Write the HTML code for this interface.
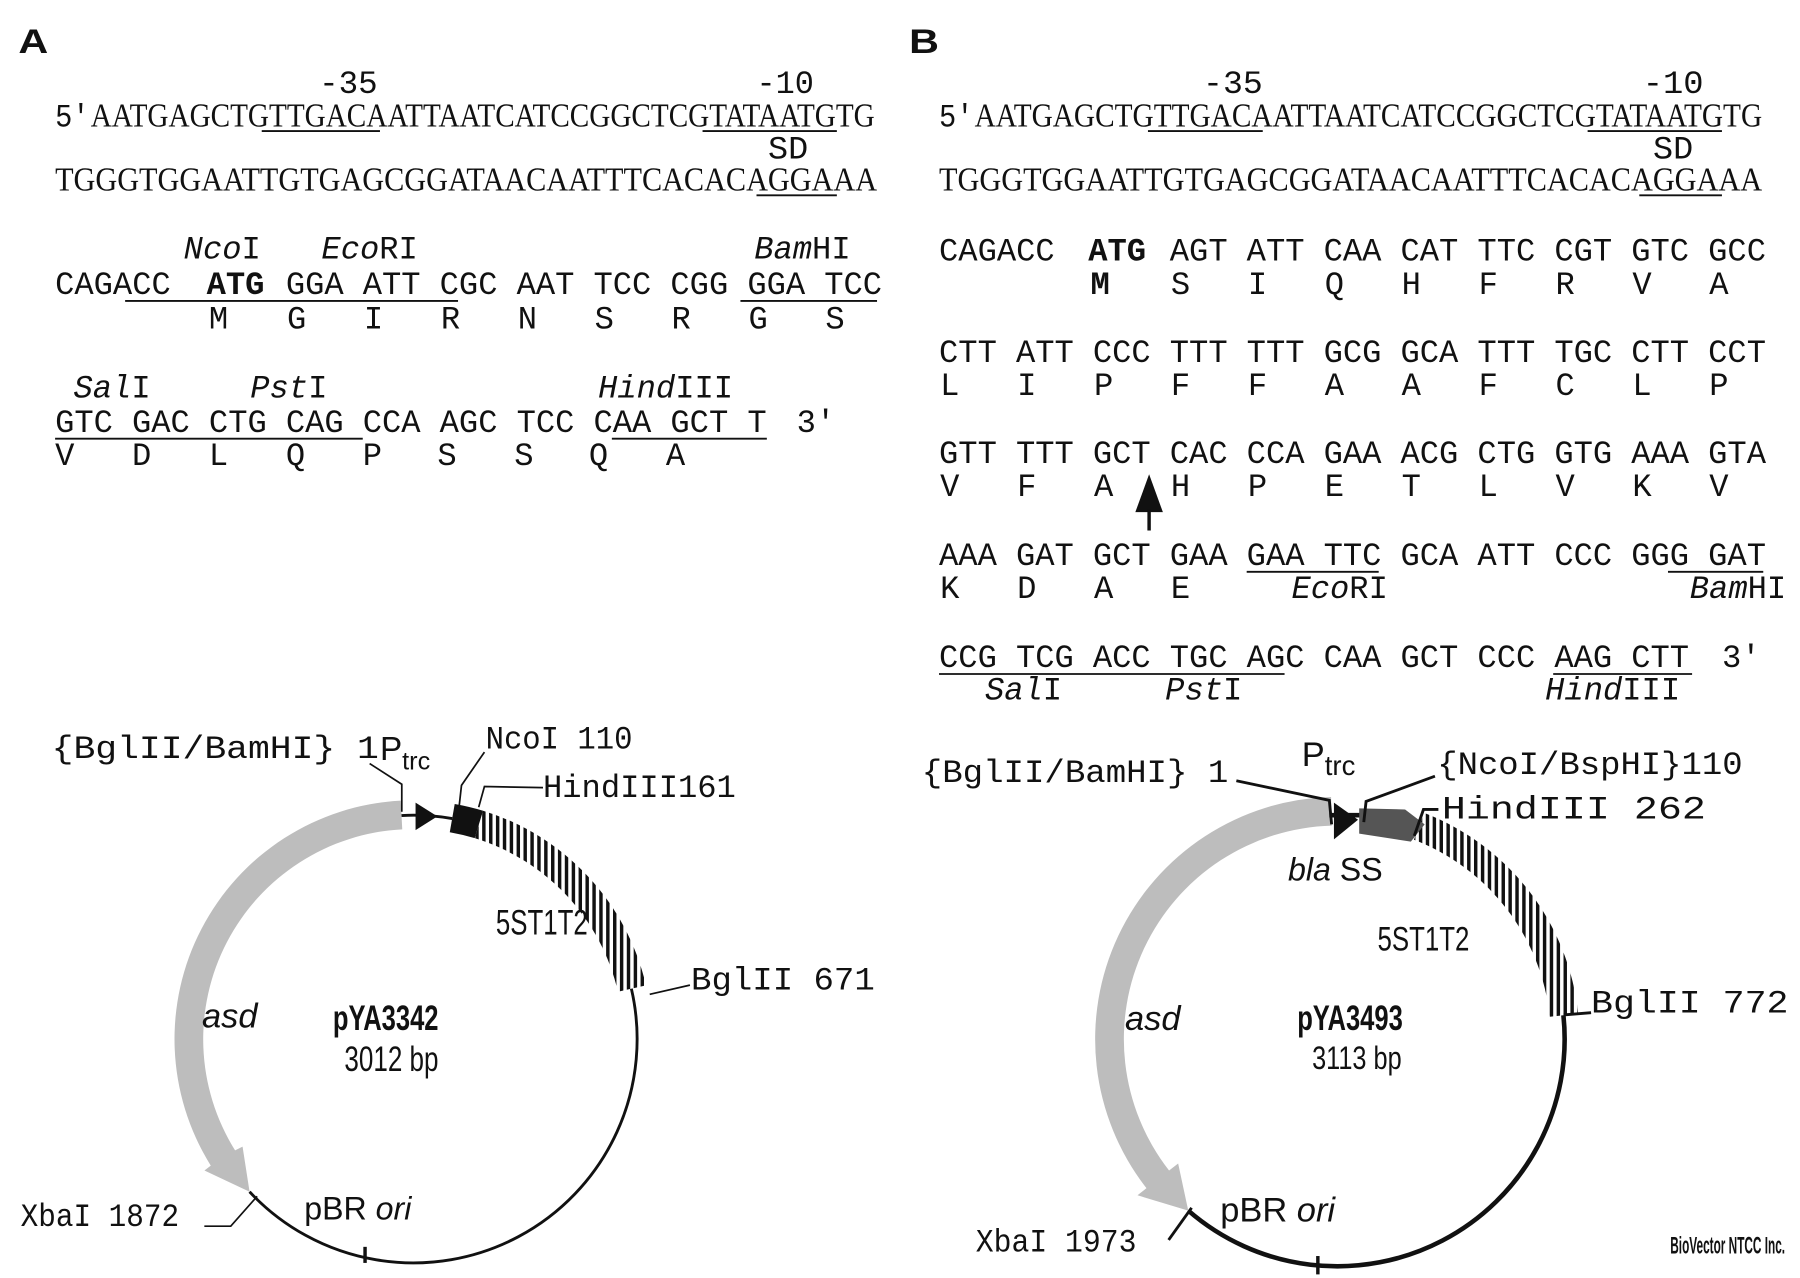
<!DOCTYPE html>
<html><head><meta charset="utf-8"><style>
html,body{margin:0;padding:0;background:#fff;}
svg{display:block;}
.m{font-family:"Liberation Mono",monospace;font-size:28px;fill:#111;}
.s{font-family:"Liberation Serif",serif;font-size:29px;fill:#111;}
.a{font-family:"Liberation Sans",sans-serif;fill:#111;}
.u{stroke:#111;stroke-width:1.6;}
.i{font-style:italic;}
.b{font-weight:bold;}
</style></head><body>
<svg width="1800" height="1278" viewBox="0 0 1568 1113" xmlns="http://www.w3.org/2000/svg">
<defs>
<pattern id="hat" patternUnits="userSpaceOnUse" width="6" height="6"><rect x="0" y="0" width="3" height="6" fill="#111"/></pattern>
</defs>
<rect width="1568" height="1113" fill="#fff"/>

<!-- ===== Panel A ===== -->
<text x="16" y="46" class="a b" font-size="30" textLength="26" lengthAdjust="spacingAndGlyphs">A</text>
<text x="278" y="81" class="m" textLength="51" lengthAdjust="spacingAndGlyphs">-35</text>
<text x="659" y="81" class="m" textLength="50" lengthAdjust="spacingAndGlyphs">-10</text>
<text x="48" y="110" class="m" textLength="30" lengthAdjust="spacingAndGlyphs">5'</text>
<text x="79" y="110" class="s" textLength="683" lengthAdjust="spacingAndGlyphs">AATGAGCTGTTGACAATTAATCATCCGGCTCGTATAATGTG</text>
<line x1="228" y1="114" x2="331" y2="114" class="u"/>
<line x1="612" y1="114" x2="729" y2="114" class="u"/>
<text x="669" y="138" class="m" textLength="35" lengthAdjust="spacingAndGlyphs">SD</text>
<text x="48" y="166" class="s" textLength="716" lengthAdjust="spacingAndGlyphs">TGGGTGGAATTGTGAGCGGATAACAATTTCACACAGGAAA</text>
<line x1="659" y1="170" x2="729" y2="170" class="u"/>

<text y="225" class="m"><tspan x="160"><tspan class="i">Nco</tspan>I</tspan><tspan x="280"><tspan class="i">Eco</tspan>RI</tspan><tspan x="657"><tspan class="i">Bam</tspan>HI</tspan></text>
<text y="256" class="m"><tspan x="48">CAGACC</tspan><tspan x="180" font-weight="bold">ATG</tspan><tspan x="249">GGA</tspan><tspan x="316">ATT</tspan><tspan x="383">CGC</tspan><tspan x="450">AAT</tspan><tspan x="517">TCC</tspan><tspan x="584">CGG</tspan><tspan x="651">GGA</tspan><tspan x="718">TCC</tspan></text>
<line x1="109" y1="262" x2="399" y2="262" class="u"/>
<line x1="645" y1="262" x2="764" y2="262" class="u"/>
<text y="286" class="m"><tspan x="182">M</tspan><tspan x="250">G</tspan><tspan x="317">I</tspan><tspan x="384">R</tspan><tspan x="451">N</tspan><tspan x="518">S</tspan><tspan x="585">R</tspan><tspan x="652">G</tspan><tspan x="719">S</tspan></text>

<text y="346" class="m"><tspan x="64"><tspan class="i">Sal</tspan>I</tspan><tspan x="218"><tspan class="i">Pst</tspan>I</tspan><tspan x="521"><tspan class="i">Hind</tspan>III</tspan></text>
<text y="376" class="m"><tspan x="48">GTC</tspan><tspan x="115">GAC</tspan><tspan x="182">CTG</tspan><tspan x="249">CAG</tspan><tspan x="316">CCA</tspan><tspan x="383">AGC</tspan><tspan x="450">TCC</tspan><tspan x="517">CAA</tspan><tspan x="584">GCT</tspan><tspan x="651">T</tspan><tspan x="694">3'</tspan></text>
<line x1="48" y1="382" x2="316" y2="382" class="u"/>
<line x1="533" y1="382" x2="668" y2="382" class="u"/>
<text y="405" class="m"><tspan x="48">V</tspan><tspan x="115">D</tspan><tspan x="182">L</tspan><tspan x="249">Q</tspan><tspan x="316">P</tspan><tspan x="381">S</tspan><tspan x="448">S</tspan><tspan x="513">Q</tspan><tspan x="580">A</tspan></text>

<!-- ===== Panel B ===== -->
<text x="792" y="46" class="a b" font-size="30" textLength="26" lengthAdjust="spacingAndGlyphs">B</text>
<text x="1048" y="81" class="m" textLength="52" lengthAdjust="spacingAndGlyphs">-35</text>
<text x="1431" y="81" class="m" textLength="53" lengthAdjust="spacingAndGlyphs">-10</text>
<text x="818" y="110" class="m" textLength="30" lengthAdjust="spacingAndGlyphs">5'</text>
<text x="849" y="110" class="s" textLength="686" lengthAdjust="spacingAndGlyphs">AATGAGCTGTTGACAATTAATCATCCGGCTCGTATAATGTG</text>
<line x1="1000" y1="114" x2="1100" y2="114" class="u"/>
<line x1="1383" y1="114" x2="1500" y2="114" class="u"/>
<text x="1440" y="138" class="m" textLength="35" lengthAdjust="spacingAndGlyphs">SD</text>
<text x="818" y="166" class="s" textLength="717" lengthAdjust="spacingAndGlyphs">TGGGTGGAATTGTGAGCGGATAACAATTTCACACAGGAAA</text>
<line x1="1428" y1="170" x2="1500" y2="170" class="u"/>

<text y="227" class="m"><tspan x="818">CAGACC</tspan><tspan x="948" font-weight="bold">ATG</tspan><tspan x="1019">AGT</tspan><tspan x="1086">ATT</tspan><tspan x="1153">CAA</tspan><tspan x="1220">CAT</tspan><tspan x="1287">TTC</tspan><tspan x="1354">CGT</tspan><tspan x="1421">GTC</tspan><tspan x="1488">GCC</tspan></text>
<text y="256" class="m"><tspan x="950" font-weight="bold">M</tspan><tspan x="1020">S</tspan><tspan x="1087">I</tspan><tspan x="1154">Q</tspan><tspan x="1221">H</tspan><tspan x="1288">F</tspan><tspan x="1355">R</tspan><tspan x="1422">V</tspan><tspan x="1489">A</tspan></text>

<text y="315" class="m"><tspan x="818">CTT</tspan><tspan x="885">ATT</tspan><tspan x="952">CCC</tspan><tspan x="1019">TTT</tspan><tspan x="1086">TTT</tspan><tspan x="1153">GCG</tspan><tspan x="1220">GCA</tspan><tspan x="1287">TTT</tspan><tspan x="1354">TGC</tspan><tspan x="1421">CTT</tspan><tspan x="1488">CCT</tspan></text>
<text y="344" class="m"><tspan x="819">L</tspan><tspan x="886">I</tspan><tspan x="953">P</tspan><tspan x="1020">F</tspan><tspan x="1087">F</tspan><tspan x="1154">A</tspan><tspan x="1221">A</tspan><tspan x="1288">F</tspan><tspan x="1355">C</tspan><tspan x="1422">L</tspan><tspan x="1489">P</tspan></text>

<text y="403" class="m"><tspan x="818">GTT</tspan><tspan x="885">TTT</tspan><tspan x="952">GCT</tspan><tspan x="1019">CAC</tspan><tspan x="1086">CCA</tspan><tspan x="1153">GAA</tspan><tspan x="1220">ACG</tspan><tspan x="1287">CTG</tspan><tspan x="1354">GTG</tspan><tspan x="1421">AAA</tspan><tspan x="1488">GTA</tspan></text>
<text y="432" class="m"><tspan x="819">V</tspan><tspan x="886">F</tspan><tspan x="953">A</tspan><tspan x="1020">H</tspan><tspan x="1087">P</tspan><tspan x="1154">E</tspan><tspan x="1221">T</tspan><tspan x="1288">L</tspan><tspan x="1355">V</tspan><tspan x="1422">K</tspan><tspan x="1489">V</tspan></text>
<polygon points="1001,413 989,446 1013,446" fill="#111"/>
<line x1="1001" y1="444" x2="1001" y2="462" stroke="#111" stroke-width="3"/>

<text y="492" class="m"><tspan x="818">AAA</tspan><tspan x="885">GAT</tspan><tspan x="952">GCT</tspan><tspan x="1019">GAA</tspan><tspan x="1086">GAA</tspan><tspan x="1153">TTC</tspan><tspan x="1220">GCA</tspan><tspan x="1287">ATT</tspan><tspan x="1354">CCC</tspan><tspan x="1421">GGG</tspan><tspan x="1488">GAT</tspan></text>
<line x1="1086" y1="498" x2="1201" y2="498" class="u"/>
<line x1="1453" y1="498" x2="1536" y2="498" class="u"/>
<text y="521" class="m"><tspan x="819">K</tspan><tspan x="886">D</tspan><tspan x="953">A</tspan><tspan x="1020">E</tspan><tspan x="1125"><tspan class="i">Eco</tspan>RI</tspan><tspan x="1472"><tspan class="i">Bam</tspan>HI</tspan></text>

<text y="581" class="m"><tspan x="818">CCG</tspan><tspan x="885">TCG</tspan><tspan x="952">ACC</tspan><tspan x="1019">TGC</tspan><tspan x="1086">AGC</tspan><tspan x="1153">CAA</tspan><tspan x="1220">GCT</tspan><tspan x="1287">CCC</tspan><tspan x="1354">AAG</tspan><tspan x="1421">CTT</tspan><tspan x="1500">3'</tspan></text>
<line x1="818" y1="587" x2="1119" y2="587" class="u"/>
<line x1="1353" y1="587" x2="1474" y2="587" class="u"/>
<text y="609" class="m"><tspan x="858"><tspan class="i">Sal</tspan>I</tspan><tspan x="1015"><tspan class="i">Pst</tspan>I</tspan><tspan x="1346"><tspan class="i">Hind</tspan>III</tspan></text>

<!-- ===== Plasmid A ===== -->
<path d="M349.1 697.3 A208 208 0 0 0 183.6 1015.2 L178.1 1019.5 L217.4 1038 L211.3 998.7 L204.8 1002 A183 183 0 0 1 350.4 722.3 Z" fill="#bdbdbd"/>
<path d="M420.8 706.1 A208 208 0 0 1 562.7 858.2 L538.3 863.8 A183 183 0 0 0 413.5 730 Z" fill="url(#hat)"/>
<path d="M396.1 700.2 A208 208 0 0 1 420.8 706.1 L413.5 730 A183 183 0 0 0 391.8 724.8 Z" fill="#111"/>
<path d="M550 861.1 A195 195 0 0 1 217.4 1038" fill="none" stroke="#111" stroke-width="2.5"/>
<path d="M349.8 710.3 A195 195 0 0 1 393.9 712.9" fill="none" stroke="#111" stroke-width="2.5"/>
<polygon points="362,699 381,711 362,723" fill="#111"/>
<line x1="318" y1="1086" x2="318" y2="1100" stroke="#111" stroke-width="3"/>
<polyline points="322,665 350,683 350,707" fill="none" stroke="#111" stroke-width="1.5"/>
<polyline points="422,655 402,684 400,702" fill="none" stroke="#111" stroke-width="1.5"/>
<polyline points="473,686 422,685 417,703" fill="none" stroke="#111" stroke-width="1.5"/>
<polyline points="601,858 566,866" fill="none" stroke="#111" stroke-width="1.5"/>
<polyline points="178,1068 201,1068 224,1042" fill="none" stroke="#111" stroke-width="1.5"/>
<text x="45" y="660" class="m" textLength="285" lengthAdjust="spacingAndGlyphs">{BglII/BamHI} 1</text>
<text x="331" y="662" class="a" font-size="29">P<tspan font-size="22" dy="8">trc</tspan></text>
<text x="423" y="652" class="m" textLength="128" lengthAdjust="spacingAndGlyphs">NcoI 110</text>
<text x="473" y="694" class="m" textLength="168" lengthAdjust="spacingAndGlyphs">HindIII161</text>
<text x="432" y="814" class="a" font-size="31" textLength="80" lengthAdjust="spacingAndGlyphs">5ST1T2</text>
<text x="176" y="895" class="a i" font-size="30">asd</text>
<text x="290" y="897" class="a b" font-size="31" textLength="92" lengthAdjust="spacingAndGlyphs">pYA3342</text>
<text x="300" y="933" class="a" font-size="31" textLength="82" lengthAdjust="spacingAndGlyphs">3012 bp</text>
<text x="602" y="862" class="m" textLength="160" lengthAdjust="spacingAndGlyphs">BglII 671</text>
<text x="18" y="1068" class="m" textLength="138" lengthAdjust="spacingAndGlyphs">XbaI 1872</text>
<text x="265" y="1062" class="a" font-size="28">pBR <tspan class="i">ori</tspan></text>

<!-- ===== Plasmid B ===== -->
<path d="M1159.5 694.1 A211 211 0 0 0 998.7 1034.9 L990.9 1041.1 L1035.1 1054.4 L1026.3 1013.4 L1018.4 1019.5 A186 186 0 0 1 1160.1 719.1 Z" fill="#bdbdbd"/>
<path d="M1240.6 708 A211 211 0 0 1 1374.8 883 L1350 885.6 A186 186 0 0 0 1231.7 731.4 Z" fill="url(#hat)"/>
<path d="M1361.9 884.3 A198 198 0 0 1 1035.1 1054.4" fill="none" stroke="#111" stroke-width="4"/>
<line x1="1158" y1="710" x2="1190" y2="710" stroke="#111" stroke-width="4"/>
<polygon points="1184,704 1224,705 1241,718 1229,733 1184,726" fill="#555"/>
<polygon points="1162,699 1183,714 1162,731" fill="#111"/>
<line x1="1148" y1="1094" x2="1148" y2="1110" stroke="#111" stroke-width="3"/>
<polyline points="1077,680 1158,697 1160,718" fill="none" stroke="#111" stroke-width="2.5"/>
<polyline points="1250,676 1190,698 1188,716" fill="none" stroke="#111" stroke-width="2.5"/>
<polyline points="1253,705 1240,705 1232,728" fill="none" stroke="#111" stroke-width="2.5"/>
<polyline points="1362,884 1386,882" fill="none" stroke="#111" stroke-width="2.5"/>
<polyline points="1018,1080 1038,1052" fill="none" stroke="#111" stroke-width="2.5"/>
<text x="803" y="681" class="m" textLength="267" lengthAdjust="spacingAndGlyphs">{BglII/BamHI} 1</text>
<text x="1134" y="667" class="a" font-size="30">P<tspan font-size="24" dy="8">trc</tspan></text>
<text x="1252" y="674" class="m" textLength="266" lengthAdjust="spacingAndGlyphs">{NcoI/BspHI}110</text>
<text x="1256" y="713" class="m" textLength="230" lengthAdjust="spacingAndGlyphs">HindIII 262</text>
<text x="1122" y="767" class="a" font-size="28"><tspan class="i">bla</tspan> SS</text>
<text x="1200" y="828" class="a" font-size="30" textLength="80" lengthAdjust="spacingAndGlyphs">5ST1T2</text>
<text x="980" y="897" class="a i" font-size="30">asd</text>
<text x="1130" y="897" class="a b" font-size="31" textLength="92" lengthAdjust="spacingAndGlyphs">pYA3493</text>
<text x="1143" y="931" class="a" font-size="28" textLength="78" lengthAdjust="spacingAndGlyphs">3113 bp</text>
<text x="1386" y="882" class="m" textLength="172" lengthAdjust="spacingAndGlyphs">BglII 772</text>
<text x="850" y="1090" class="m" textLength="140" lengthAdjust="spacingAndGlyphs">XbaI 1973</text>
<text x="1063" y="1064" class="a" font-size="30">pBR <tspan class="i">ori</tspan></text>
<text x="1455" y="1092" class="a b" font-size="21" textLength="100" lengthAdjust="spacingAndGlyphs">BioVector NTCC Inc.</text>
</svg>
</body></html>
